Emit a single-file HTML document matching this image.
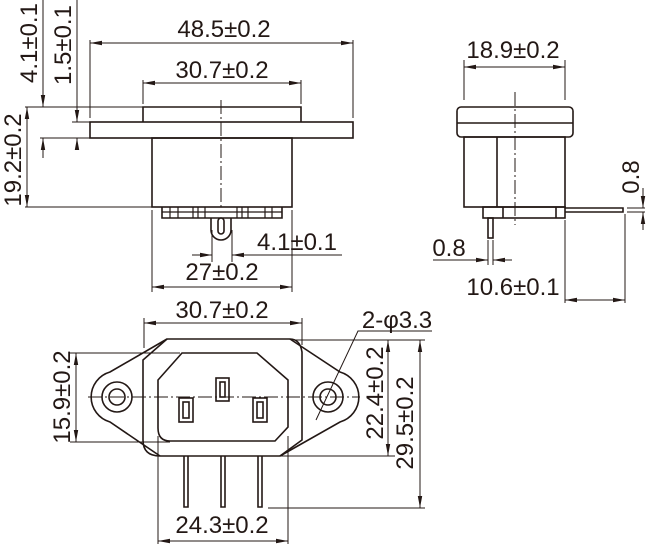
<!DOCTYPE html>
<html><head><meta charset="utf-8"><style>
html,body{margin:0;padding:0;background:#fff}
svg{display:block}
text{font-family:"Liberation Sans",sans-serif;font-size:24px;fill:#231815}
</style></head><body>
<svg width="647" height="544" viewBox="0 0 647 544" xmlns="http://www.w3.org/2000/svg">
<defs>
<marker id="a" viewBox="0 0 12 6" refX="12" refY="3" markerWidth="12" markerHeight="6" orient="auto-start-reverse" markerUnits="userSpaceOnUse"><path d="M0,0.8 L12,3 L0,5.2z" fill="#231815"/></marker>
</defs>
<g stroke="#231815" fill="none" stroke-width="1">
<g stroke-width="1.6">
<rect x="90" y="122" width="263" height="16"/>
<path d="M143,122 V107 H301 V122"/>
<rect x="152" y="138" width="140" height="69"/>
<path d="M162,207 V218 H282 V207"/>
<path d="M211,218 V230 A10,10 0 0 0 231,230 V218"/>
<rect x="218" y="218" width="6" height="16" rx="3"/>
</g>
<path d="M170,207v11M178,207v11M193,207v11M198,207v11M205,207v11M237,207v11M242,207v11M248,207v11M265,207v11M272,207v11M162,212h120" stroke-width="1.2"/>
<path d="M221,100 V207" stroke-dasharray="14,3,2,3"/>
<path d="M90,40 V118 M353,40 V118"/>
<path d="M90,43 H353" marker-start="url(#a)" marker-end="url(#a)"/>
<path d="M143,80 V104 M301,80 V104"/>
<path d="M143,83 H301" marker-start="url(#a)" marker-end="url(#a)"/>
<path d="M25,107 H143 M40,138 H90 M72,122 H90 M25,207 H152"/>
<path d="M43,0 V107" marker-end="url(#a)"/><path d="M43,158 V138" marker-end="url(#a)"/>
<path d="M77,0 V122" marker-end="url(#a)"/><path d="M77,145 V138" marker-end="url(#a)"/>
<path d="M27,107 V207" marker-start="url(#a)" marker-end="url(#a)"/>
<path d="M152,210 V292 M292,210 V292 M212,230 V262 M232,230 V262"/>
<path d="M152,287 H292" marker-start="url(#a)" marker-end="url(#a)"/>
<path d="M192,255 H212" marker-end="url(#a)"/><path d="M342,255 H232" marker-end="url(#a)"/>
<g stroke-width="1.6">
<rect x="457" y="107" width="116" height="30" rx="4"/>
<path d="M457,123 H573"/>
<rect x="464" y="137" width="101" height="70"/>
<path d="M497,137 V207"/>
<rect x="483" y="207" width="82" height="11"/>
<path d="M503,207v11M556,207v11"/>
<path d="M565,208 H623 V212 H565"/>
<rect x="488" y="218" width="5" height="20"/>
</g>
<path d="M515,92 V225" stroke-dasharray="14,3,2,3"/>
<path d="M464,60 V100 M565,60 V100"/>
<path d="M464,67 H565" marker-start="url(#a)" marker-end="url(#a)"/>
<path d="M488,240 V265 M493,240 V265"/>
<path d="M433,260 H488" marker-end="url(#a)"/><path d="M512,260 H493" marker-end="url(#a)"/>
<path d="M565,220 V303 M625,214 V303"/>
<path d="M565,300 H625" marker-start="url(#a)" marker-end="url(#a)"/>
<path d="M627,208 H645 M627,212 H645"/>
<path d="M643,188 V208" marker-end="url(#a)"/><path d="M643,230 V212" marker-end="url(#a)"/>
<g stroke-width="1.6">
<path d="M167,339 H290 Q300,339 302,352 V440 L280,456 H160 Q143,456 143,440 V360 Z"/>
<path d="M167,339 L110,372 A26,26 0 0 0 110,422 L160,456"/>
<path d="M290,339 L340,372 A26,26 0 0 1 340,422 L280,456"/>
<circle cx="117" cy="397" r="15"/><circle cx="117" cy="397" r="8"/>
<circle cx="328" cy="397" r="15"/><circle cx="328" cy="397" r="8"/>
<path d="M182,353 H257 L288,380 V427 L275,441 H170 Q158,441 158,428 V380 Z"/>
<rect x="216" y="378" width="13" height="23"/><rect x="220" y="382" width="5" height="15"/>
<rect x="179" y="398" width="14" height="24"/><rect x="183" y="402" width="6" height="16"/>
<rect x="253" y="398" width="14" height="24"/><rect x="257" y="402" width="6" height="16"/>
<path d="M184,456 V507 H188 V456 M221,456 V507 H225 V456 M258,456 V507 H262 V456"/>
</g>
<path d="M88,397 H360" stroke-dasharray="14,3,2,3"/>
<path d="M144,318 V348 M302,318 V345"/>
<path d="M144,323 H302" marker-start="url(#a)" marker-end="url(#a)"/>
<path d="M70,353 H180 M70,442 H170"/>
<path d="M76,353 V442" marker-start="url(#a)" marker-end="url(#a)"/>
<path d="M295,340 H425 M280,456 H395 M268,508 H425"/>
<path d="M388,340 V456" marker-start="url(#a)" marker-end="url(#a)"/>
<path d="M420,340 V508" marker-start="url(#a)" marker-end="url(#a)"/>
<path d="M158,436 V544 M288,436 V544"/>
<path d="M158,541 H288" marker-start="url(#a)" marker-end="url(#a)"/>
<path d="M432,331 H358 L316,420"/>
</g>
<g>
<text x="224" y="37" text-anchor="middle">48.5±0.2</text>
<text x="222" y="78" text-anchor="middle">30.7±0.2</text>
<text transform="translate(37,43) rotate(-90)" text-anchor="middle">4.1±0.1</text>
<text transform="translate(71,45) rotate(-90)" text-anchor="middle">1.5±0.1</text>
<text transform="translate(21,160) rotate(-90)" text-anchor="middle">19.2±0.2</text>
<text x="297" y="250" text-anchor="middle">4.1±0.1</text>
<text x="222" y="280" text-anchor="middle">27±0.2</text>
<text x="513" y="58" text-anchor="middle">18.9±0.2</text>
<text transform="translate(639,177) rotate(-90)" text-anchor="middle">0.8</text>
<text x="449" y="256" text-anchor="middle">0.8</text>
<text x="513" y="295" text-anchor="middle">10.6±0.1</text>
<text x="222" y="318" text-anchor="middle">30.7±0.2</text>
<text x="397" y="328" text-anchor="middle">2-φ3.3</text>
<text transform="translate(70,397) rotate(-90)" text-anchor="middle">15.9±0.2</text>
<text transform="translate(383,393) rotate(-90)" text-anchor="middle">22.4±0.2</text>
<text transform="translate(413,423) rotate(-90)" text-anchor="middle">29.5±0.2</text>
<text x="222" y="533" text-anchor="middle">24.3±0.2</text>
</g>
</svg>
</body></html>
